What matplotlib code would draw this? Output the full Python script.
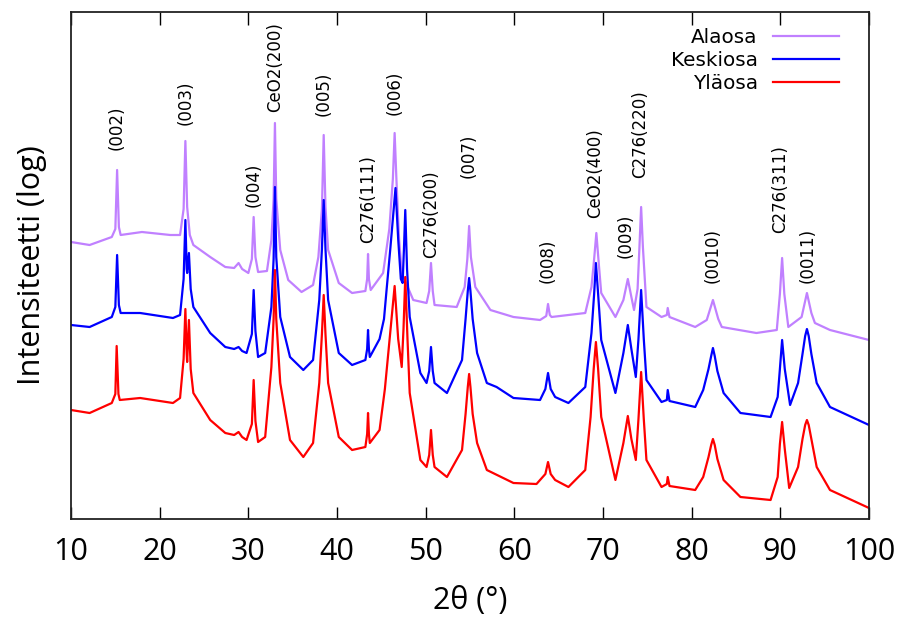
import matplotlib
matplotlib.use('Agg')
import matplotlib.pyplot as plt

# 2theta (deg) and offset log-intensity (arbitrary units)
alaosa_x = [10.0, 12.1, 14.6, 15.0, 15.2, 15.4, 15.6, 18.0, 21.2, 22.3, 22.7, 22.9, 23.1, 23.4,
            23.8, 25.7, 27.4, 28.4, 28.9, 29.3, 30.0, 30.4, 30.6, 30.8, 31.1, 32.1, 32.6, 32.85,
            33.0, 33.15, 33.6, 34.5, 36.0, 37.3, 37.9, 38.3, 38.5, 38.7, 39.0, 40.2, 41.7, 43.2,
            43.4, 43.5, 43.6, 43.8, 45.2, 45.9, 46.3, 46.5, 46.7, 47.0, 47.3, 48.6, 50.1, 50.4,
            50.6, 50.8, 51.0, 53.5, 54.4, 54.7, 54.9, 55.1, 55.6, 57.3, 59.9, 62.9, 63.6, 63.8,
            64.0, 64.2, 68.0, 68.7, 69.0, 69.25, 69.5, 69.8, 71.4, 72.3, 72.8, 73.2, 73.5, 73.9,
            74.1, 74.3, 74.5, 74.9, 76.6, 77.2, 77.3, 77.5, 80.4, 81.7, 82.4, 83.0, 83.4, 87.3,
            89.6, 89.95, 90.2, 90.45, 90.9, 92.4, 93.0, 93.5, 93.9, 95.6, 100.0]
alaosa_y = [277, 274, 282, 290, 349, 292, 284, 287, 284, 284, 310, 378, 312, 284,
            274, 262, 252, 251, 256, 250, 246, 260, 302, 262, 247, 248, 279, 320,
            396, 320, 269, 239, 227, 234, 262, 310, 384, 312, 269, 236, 226, 228,
            240, 265, 240, 229, 246, 290, 340, 386, 340, 280, 246, 219, 216, 228,
            256, 228, 214, 212, 232, 260, 293, 262, 232, 209, 202, 199, 203, 215,
            204, 202, 206, 232, 260, 286, 258, 226, 202, 219, 240, 222, 209, 230,
            270, 312, 272, 212, 202, 204, 211, 202, 192, 199, 219, 200, 192, 186,
            189, 225, 261, 225, 192, 202, 226, 206, 196, 189, 179]

keskiosa_x = [10.0, 12.1, 14.6, 15.0, 15.2, 15.4, 15.6, 17.8, 21.5, 22.3, 22.7, 22.9, 23.05, 23.1,
              23.3, 23.5, 23.8, 25.7, 27.4, 28.4, 28.9, 29.3, 29.8, 30.4, 30.6, 30.8, 31.1, 31.9,
              32.6, 32.85, 33.0, 33.15, 33.6, 34.7, 36.2, 37.3, 38.0, 38.3, 38.5, 38.7, 39.0, 40.2,
              41.7, 43.2, 43.4, 43.5, 43.6, 43.7, 44.8, 45.3, 45.6, 46.0, 46.3, 46.6, 46.9, 47.2,
              47.4, 47.55, 47.7, 47.9, 48.2, 49.4, 50.1, 50.4, 50.6, 50.8, 51.0, 52.4, 54.1, 54.5,
              54.75, 54.9, 55.05, 55.3, 55.8, 56.9, 58.0, 59.9, 62.9, 63.5, 63.8, 64.1, 64.6, 66.1,
              68.0, 68.7, 69.0, 69.2, 69.45, 69.8, 71.4, 72.3, 72.8, 73.2, 73.7, 74.0, 74.3, 74.6,
              74.9, 76.6, 77.2, 77.3, 77.5, 80.4, 81.3, 81.9, 82.2, 82.4, 82.6, 82.9, 83.6, 85.5,
              88.9, 89.7, 89.95, 90.2, 90.5, 91.1, 92.0, 92.5, 92.8, 93.0, 93.2, 93.5, 94.1, 95.6,
              100.0]
keskiosa_y = [194, 192, 202, 212, 264, 214, 206, 206, 201, 204, 240, 299, 250, 246,
              266, 230, 212, 186, 172, 170, 172, 168, 166, 185, 229, 188, 162, 166,
              212, 260, 332, 262, 202, 162, 149, 159, 219, 270, 319, 270, 219, 166,
              154, 159, 170, 189, 170, 162, 180, 200, 230, 269, 300, 331, 280, 240,
              236, 270, 309, 250, 202, 146, 136, 148, 172, 148, 136, 126, 159, 200,
              228, 241, 228, 200, 166, 136, 132, 121, 119, 130, 146, 130, 122, 116,
              132, 186, 225, 256, 225, 179, 126, 166, 194, 170, 142, 180, 229, 180,
              139, 117, 119, 129, 118, 112, 129, 150, 163, 171, 163, 148, 126, 106,
              102, 122, 150, 179, 150, 114, 136, 165, 183, 190, 183, 165, 136, 112,
              94]

ylaosa_x = [10.0, 12.1, 14.6, 15.0, 15.15, 15.35, 15.5, 17.8, 21.5, 22.3, 22.7, 22.9, 23.05, 23.1,
            23.3, 23.5, 23.8, 25.7, 27.4, 28.4, 28.9, 29.3, 29.8, 30.4, 30.6, 30.8, 31.1, 31.9,
            32.6, 32.85, 33.0, 33.15, 33.6, 34.7, 36.2, 37.3, 38.0, 38.3, 38.5, 38.7, 39.0, 40.2,
            41.7, 43.2, 43.4, 43.5, 43.6, 43.7, 44.8, 45.4, 46.0, 46.5, 46.9, 47.3, 47.5, 47.7,
            47.95, 48.2, 49.4, 50.1, 50.4, 50.6, 50.8, 51.0, 52.4, 54.1, 54.5, 54.75, 54.9, 55.05,
            55.3, 55.8, 56.9, 59.9, 62.5, 63.5, 63.8, 64.1, 64.6, 66.1, 68.0, 68.6, 68.95, 69.2,
            69.45, 69.8, 71.4, 72.3, 72.8, 73.2, 73.7, 74.0, 74.3, 74.6, 74.9, 76.6, 77.2, 77.3,
            77.5, 80.4, 81.3, 81.9, 82.2, 82.4, 82.6, 82.9, 83.6, 85.5, 88.9, 89.7, 89.95, 90.2,
            90.5, 91.0, 92.0, 92.5, 92.8, 93.0, 93.2, 93.5, 94.1, 95.6, 100.0]
ylaosa_y = [109, 106, 116, 125, 173, 125, 119, 121, 116, 121, 160, 210, 165, 157,
            199, 150, 126, 99, 86, 84, 87, 82, 79, 95, 139, 98, 77, 82,
            152, 200, 249, 200, 136, 79, 62, 76, 136, 185, 224, 185, 136, 82,
            69, 72, 85, 106, 85, 76, 89, 130, 186, 233, 180, 152, 190, 242,
            180, 126, 59, 52, 64, 89, 64, 52, 42, 69, 105, 132, 145, 132,
            105, 76, 49, 36, 35, 45, 57, 45, 39, 32, 49, 102, 150, 177,
            150, 102, 39, 76, 103, 80, 59, 100, 147, 100, 59, 32, 35, 42,
            33, 29, 42, 62, 74, 80, 74, 60, 39, 22, 19, 42, 75, 97,
            70, 31, 52, 80, 94, 99, 94, 80, 52, 29, 11]

# peak labels: text, 2theta, height where the label starts
peak_names = ['(002)', '(003)', '(004)', 'CeO2(200)', '(005)', 'C276(111)', '(006)',
              'C276(200)', '(007)', '(008)', 'CeO2(400)', '(009)', 'C276(220)',
              '(0010)', 'C276(311)', '(0011)']
peak_x = [15.2, 22.9, 30.6, 33.0, 38.5, 43.5, 46.5, 50.6, 54.9, 63.7, 69.1, 72.5, 74.2,
          82.4, 90.0, 93.1]
peak_label_y = [369, 394, 312, 407, 403, 276, 404, 261, 341, 236, 301, 261, 341, 236, 286, 236]

xticks = [10, 20, 30, 40, 50, 60, 70, 80, 90, 100]

fig = plt.figure(figsize=(9.06, 6.19), dpi=100)
ax = fig.add_axes([71 / 906, 1 - 519 / 619, 798 / 906, 507 / 619])

ax.plot(alaosa_x, alaosa_y, color='#c080ff', lw=1.6, label='Alaosa')
ax.plot(keskiosa_x, keskiosa_y, color='#0000ff', lw=1.6, label='Keskiosa')
ax.plot(ylaosa_x, ylaosa_y, color='#ff0000', lw=1.6, label='Yläosa')

for name, px, py in zip(peak_names, peak_x, peak_label_y):
    ax.text(px, py, name, rotation=90, ha='center', va='bottom', fontsize=12,
            family='DejaVu Sans')

ax.set_xlim(10, 100)
ax.set_ylim(0, 507)
ax.set_xticks(xticks)
ax.set_yticks([])
ax.tick_params(axis='x', direction='in', top=True, bottom=True, length=9, width=1,
               pad=13, labelsize=22)
for lab in ax.get_xticklabels():
    lab.set_family('Open Sans')
for sp in ax.spines.values():
    sp.set_linewidth(1.3)
    sp.set_color('#222222')

ax.set_xlabel('2θ (°)', family='Open Sans', fontsize=22, labelpad=14)
ax.set_ylabel('Intensiteetti (log)', family='Open Sans', fontsize=22, labelpad=17)

leg = ax.legend(loc='upper right', bbox_to_anchor=(0.962, 0.968), frameon=False,
                markerfirst=False, handlelength=3.3, handletextpad=0.75,
                labelspacing=0.2, borderpad=0, borderaxespad=0,
                prop={'family': 'DejaVu Sans', 'size': 14.4})

fig.savefig('out.png', dpi=100)
